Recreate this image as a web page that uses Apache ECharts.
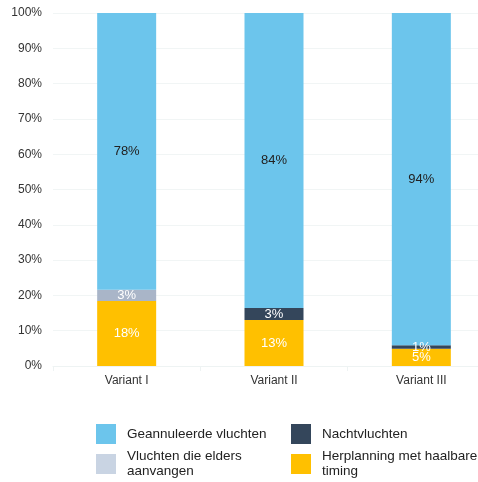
<!DOCTYPE html>
<html>
<head>
<meta charset="utf-8">
<script src="https://cdn.jsdelivr.net/npm/echarts@6/dist/echarts.min.js"></script>
<style>
  html, body { margin: 0; padding: 0; background: #fff; }
  #chart { width: 478px; height: 482px; }
</style>
</head>
<body>
<div id="chart"></div>
<script>
const categories = ['Variant I', 'Variant II', 'Variant III'];
const herplanning = [18.4, 13.0, 4.9];
const elders = [3.2, 0, 0];
const nacht = [0, 3.4, 1.0];
const geannuleerd = [78.4, 83.6, 94.1];
const yTicks = [0, 10, 20, 30, 40, 50, 60, 70, 80, 90, 100];

const font = 'Liberation Sans, Arial, sans-serif';
const colors = {
  geannuleerd: '#6CC5EC',
  nacht: '#34465B',
  elders: '#A9B5C8',
  eldersLegend: '#C9D4E3',
  herplanning: '#FFC000'
};

const chart = echarts.init(document.getElementById('chart'));

const pctLabel = (color) => ({
  show: true,
  position: 'inside',
  color: color,
  fontFamily: font,
  fontSize: 13,
  formatter: (p) => (p.value > 0 ? Math.round(p.value) + '%' : '')
});

const mkBar = (name, data, color, labelColor) => ({
  name: name,
  type: 'bar',
  stack: 'total',
  barWidth: 59,
  data: data,
  itemStyle: { color: color },
  label: pctLabel(labelColor),
  emphasis: { disabled: true }
});

const legendBase = {
  itemWidth: 20,
  itemHeight: 20,
  icon: 'rect',
  selectedMode: false,
  padding: 0,
  textStyle: { fontFamily: font, fontSize: 13.5, color: '#222', lineHeight: 15, padding: [0, 0, 0, 6] }
};

chart.setOption({
  animation: false,
  // plot area runs past the right edge of the picture, as in the reference
  grid: { left: 53, width: 442, top: 13, bottom: 116, outerBoundsMode: 'none', containLabel: false },
  xAxis: {
    type: 'category',
    data: categories,
    axisLine: { lineStyle: { color: '#EEF3F3' } },
    axisTick: { show: true, lineStyle: { color: '#EEF3F3' } },
    axisLabel: { color: '#333', fontFamily: font, fontSize: 12, margin: 9 }
  },
  yAxis: {
    type: 'value',
    min: yTicks[0],
    max: yTicks[yTicks.length - 1],
    interval: 10,
    axisLine: { show: false },
    axisTick: { show: false },
    splitLine: { lineStyle: { color: '#F1F5F5' } },
    axisLabel: { color: '#333', fontFamily: font, fontSize: 12, margin: 11, formatter: '{value}%' }
  },
  legend: [
    Object.assign({}, legendBase, { left: 96, top: 424, data: ['Geannuleerde vluchten'] }),
    Object.assign({}, legendBase, { left: 291, top: 424, data: ['Nachtvluchten'] }),
    Object.assign({}, legendBase, {
      left: 96, top: 449,
      data: [{ name: 'Vluchten die elders aanvangen', itemStyle: { color: colors.eldersLegend } }],
      formatter: () => 'Vluchten die elders\naanvangen'
    }),
    Object.assign({}, legendBase, {
      left: 291, top: 449,
      data: ['Herplanning met haalbare timing'],
      formatter: () => 'Herplanning met haalbare\ntiming'
    })
  ],
  series: [
    mkBar('Herplanning met haalbare timing', herplanning, colors.herplanning, '#fff'),
    mkBar('Vluchten die elders aanvangen', elders, colors.elders, '#fff'),
    mkBar('Nachtvluchten', nacht, colors.nacht, '#fff'),
    mkBar('Geannuleerde vluchten', geannuleerd, colors.geannuleerd, '#222')
  ]
});
</script>
</body>
</html>
